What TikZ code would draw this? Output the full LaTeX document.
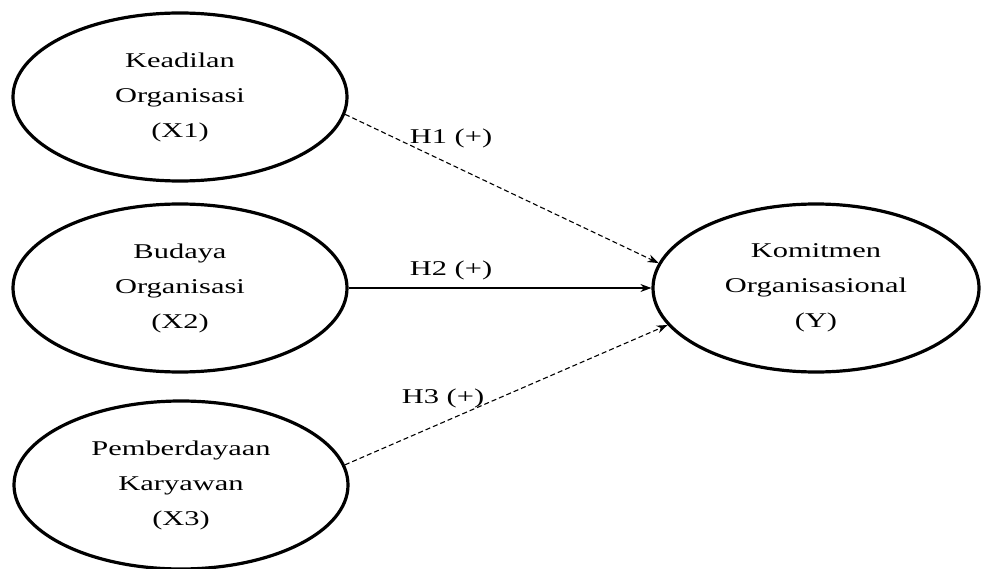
\documentclass[tikz,border=0pt]{standalone}
\usepackage{fontspec}
\usepackage{graphicx}
\setmainfont{Liberation Serif}
\usetikzlibrary{shapes.geometric,arrows.meta}
\newcommand{\wl}[1]{\scalebox{1.45}[1]{#1}}
\tikzset{
  var/.style={draw, ellipse, line width=3.2pt, minimum width=334pt, minimum height=168pt, inner sep=0pt,
    align=center, font=\fontsize{21}{35}\selectfont},
  hyp/.style={font=\fontsize{21}{25}\selectfont, inner sep=0pt},
  link/.style={line width=1.1pt, -{Stealth[length=11pt,width=8pt]}},
  dlink/.style={link, dash pattern=on 5pt off 3pt}
}
\begin{document}
\begin{tikzpicture}[x=1pt,y=-1pt]
\useasboundingbox (0,0) rectangle (982,569);
\node[var] (x1) at (180,97) {\wl{Keadilan}\\\wl{Organisasi}\\\wl{(X1)}};
\node[var] (x2) at (180,288) {\wl{Budaya}\\\wl{Organisasi}\\\wl{(X2)}};
\node[var] (x3) at (181,485) {\wl{Pemberdayaan}\\\wl{Karyawan}\\\wl{(X3)}};
\node[var, minimum width=326pt] (y) at (816,288) {\wl{Komitmen}\\\wl{Organisasional}\\\wl{(Y)}};
\draw[dlink] (x1.-6) -- (y.171);
\draw[link] (x2.east) -- (y.west);
\draw[dlink] (x3.7) -- (y.194);
\node[hyp] (h1) at (451,138) {\wl{H1 (+)}};
\node[hyp] (h2) at (451,270) {\wl{H2 (+)}};
\node[hyp] (h3) at (443,398) {\wl{H3 (+)}};
\end{tikzpicture}
\end{document}
